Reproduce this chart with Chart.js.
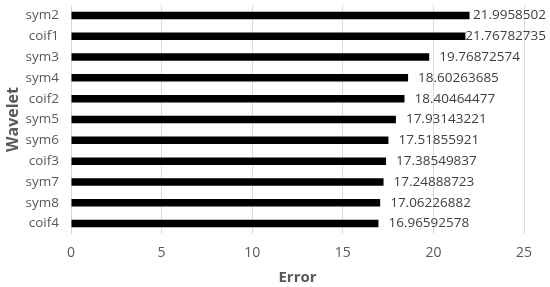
<!DOCTYPE html>
<html>
<head>
<meta charset="utf-8">
<script src="https://cdn.jsdelivr.net/npm/chart.js@4/dist/chart.umd.min.js"></script>
<style>
  html, body { margin: 0; padding: 0; background: #fff; }
  #wrap { width: 550px; height: 287px; position: relative; }
</style>
</head>
<body>
<div id="wrap"><canvas id="chart"></canvas></div>
<script>
const wavelets = ['sym2', 'coif1', 'sym3', 'sym4', 'coif2', 'sym5', 'sym6', 'coif3', 'sym7', 'sym8', 'coif4'];
const errors = [21.9958502, 21.76782735, 19.76872574, 18.60263685, 18.40464477, 17.93143221,
  17.51855921, 17.38549837, 17.24888723, 17.06226882, 16.96592578];
const errorLabels = ['21.9958502', '21.76782735', '19.76872574', '18.60263685', '18.40464477', '17.93143221',
  '17.51855921', '17.38549837', '17.24888723', '17.06226882', '16.96592578'];

const FONT = "'Open Sans', 'Liberation Sans', sans-serif";
const GREY = '#595959';

// value labels at bar ends, kept inside the canvas on the right
const valueLabels = {
  id: 'valueLabels',
  afterDatasetsDraw(chart) {
    const ctx = chart.ctx;
    const meta = chart.getDatasetMeta(0);
    ctx.save();
    ctx.font = `13.5px ${FONT}`;
    ctx.fillStyle = '#404040';
    ctx.textBaseline = 'middle';
    meta.data.forEach((bar, i) => {
      const txt = errorLabels[i];
      const w = ctx.measureText(txt).width;
      let x = bar.x + 10;
      if (x + w > chart.width - 4) x = chart.width - 4 - w;
      ctx.fillText(txt, x, bar.y);
    });
    ctx.restore();
  },
};

new Chart(document.getElementById('chart'), {
  type: 'bar',
  data: {
    labels: wavelets,
    datasets: [{
      data: errors,
      backgroundColor: '#000000',
      categoryPercentage: 1,
      barPercentage: 0.36,
    }],
  },
  options: {
    indexAxis: 'y',
    responsive: true,
    maintainAspectRatio: false,
    animation: false,
    layout: { padding: { top: 5, right: 26, left: 4, bottom: 0 } },
    plugins: { legend: { display: false }, tooltip: { enabled: false } },
    scales: {
      x: {
        min: 0,
        max: 25,
        ticks: { stepSize: 5, color: GREY, font: { family: FONT, size: 14 }, padding: 11 },
        grid: { color: '#d9d9d9', drawTicks: false },
        border: { display: false },
        title: { display: true, text: 'Error', color: GREY, font: { family: FONT, size: 15, weight: 'bold' }, padding: { top: 2, bottom: 0 } },
        afterFit(axis) { axis.height = 53; axis.paddingLeft = 0; axis.paddingRight = 0; },
      },
      y: {
        ticks: { color: GREY, font: { family: FONT, size: 13.5 }, padding: 12 },
        grid: { display: false, drawTicks: false },
        border: { display: false },
        title: { display: true, text: 'Wavelet', color: GREY, font: { family: FONT, size: 16, weight: 'bold' }, padding: { top: 0, bottom: 2 } },
        afterFit(axis) { axis.width = 67; axis.paddingTop = 0; axis.paddingBottom = 0; },
      },
    },
  },
  plugins: [valueLabels],
});
</script>
</body>
</html>
